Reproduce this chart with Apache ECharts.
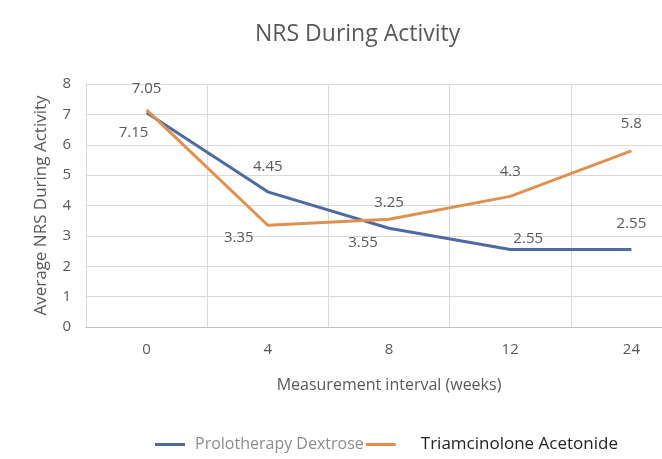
<!DOCTYPE html>
<html>
<head>
<meta charset="utf-8">
<script src="https://cdn.jsdelivr.net/npm/echarts@6/dist/echarts.min.js"></script>
<style>
  html, body { margin: 0; padding: 0; background: #fff; overflow: hidden; }
  /* the plot runs past the right edge of the picture, as in the original crop */
  #chart { width: 692px; height: 459px; }
</style>
</head>
<body>
<div id="chart"></div>
<script>
// weeks
var weeks = ["0", "4", "8", "12", "24"];
var prolotherapy = [7.05, 4.45, 3.25, 2.55, 2.55];
var triamcinolone = [7.15, 3.35, 3.55, 4.3, 5.8];
var yTicks = [0, 1, 2, 3, 4, 5, 6, 7, 8];

// label placement, pixels relative to each point
var proloOffsets = [[0, -24], [0, -25], [0, -26], [18, -11], [0, -26]];
var triamOffsets = [[-13, 23], [-29, 12], [-26, 24], [0, -25], [0, -27]];

var blue = "#4d6aa3";
var orange = "#e0904f";

function withLabels(values, offsets) {
  return values.map(function (v, i) {
    return { value: v, label: { offset: offsets[i] } };
  });
}

var myChart = echarts.init(document.getElementById("chart"));
myChart.setOption({
  animation: false,
  textStyle: { fontFamily: "Open Sans" },
  title: {
    text: "NRS During Activity",
    left: 250,
    top: 18,
    textStyle: { fontSize: 23, fontWeight: "normal", color: "#595959", fontFamily: "Open Sans" }
  },
  grid: { left: 86, right: 0, top: 84, bottom: 132 },
  legend: {
    left: 150,
    top: 431,
    itemWidth: 30,
    itemHeight: 3,
    itemGap: 2,
    icon: "rect",
    data: [
      { name: "Prolotherapy Dextrose", textStyle: { color: "#8c8c8c", fontSize: 16, padding: [0, 0, 0, 5] } },
      { name: "Triamcinolone Acetonide", textStyle: { color: "#222", fontSize: 17, padding: [0, 0, 0, 20] } }
    ]
  },
  xAxis: {
    type: "category",
    data: weeks,
    boundaryGap: true,
    name: "Measurement interval (weeks)",
    nameLocation: "middle",
    nameGap: 50,
    nameTextStyle: { color: "#595959", fontSize: 16 },
    axisTick: { show: false },
    axisLine: { lineStyle: { color: "#bfbfbf" } },
    axisLabel: { color: "#595959", fontSize: 15, margin: 15 },
    splitLine: { show: true, lineStyle: { color: "#d9d9d9" } }
  },
  yAxis: {
    type: "value",
    min: yTicks[0],
    max: yTicks[yTicks.length - 1],
    interval: 1,
    name: "Average NRS During Activity",
    nameLocation: "middle",
    nameGap: 36,
    nameTextStyle: { color: "#595959", fontSize: 17 },
    axisLine: { show: false },
    axisTick: { show: false },
    axisLabel: { color: "#595959", fontSize: 15, margin: 15 },
    splitLine: { lineStyle: { color: "#d9d9d9" } }
  },
  series: [
    {
      name: "Prolotherapy Dextrose",
      type: "line",
      data: withLabels(prolotherapy, proloOffsets),
      color: blue,
      lineStyle: { width: 3, color: blue },
      symbol: "circle",
      symbolSize: 0.1,
      showSymbol: true,
      label: { show: true, position: "inside", color: "#595959", fontSize: 15 }
    },
    {
      name: "Triamcinolone Acetonide",
      type: "line",
      data: withLabels(triamcinolone, triamOffsets),
      color: orange,
      lineStyle: { width: 3, color: orange },
      symbol: "circle",
      symbolSize: 0.1,
      showSymbol: true,
      label: { show: true, position: "inside", color: "#595959", fontSize: 15 }
    }
  ]
});
</script>
</body>
</html>
